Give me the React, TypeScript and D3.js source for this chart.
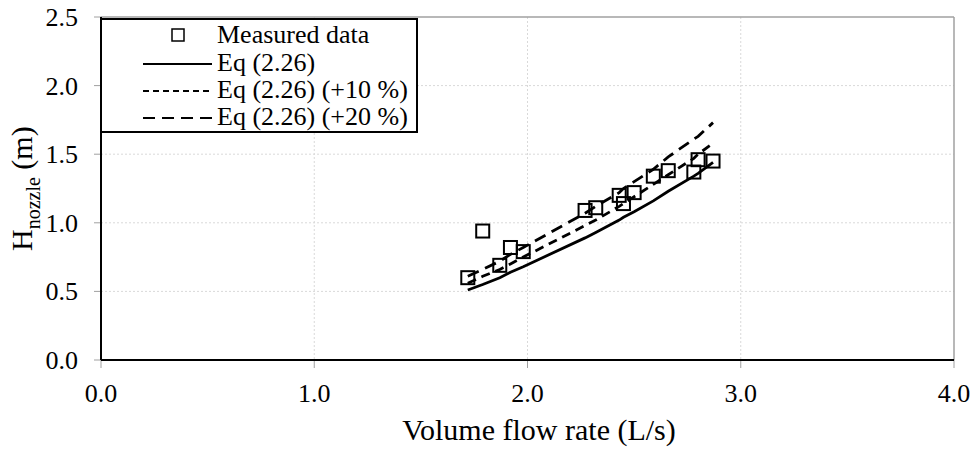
import React from 'react';
import * as d3 from 'd3';

// measured flow rate (L/s) and nozzle head (m)
const flowRates = [1.72, 1.79, 1.87, 1.92, 1.98, 2.27, 2.32, 2.43, 2.45, 2.50, 2.59, 2.66, 2.78, 2.80, 2.87];
const measuredHead = [0.60, 0.94, 0.69, 0.82, 0.79, 1.09, 1.11, 1.20, 1.14, 1.22, 1.34, 1.38, 1.37, 1.46, 1.45];

// Eq (2.26) curves read at the same flow rates
const eqHead = [0.51, 0.55, 0.60, 0.64, 0.68, 0.89, 0.93, 1.02, 1.04, 1.08, 1.16, 1.23, 1.34, 1.36, 1.44];
const eqHead10 = [0.56, 0.61, 0.66, 0.70, 0.75, 0.98, 1.02, 1.12, 1.14, 1.19, 1.28, 1.35, 1.47, 1.50, 1.58];
const eqHead20 = [0.61, 0.66, 0.72, 0.77, 0.82, 1.07, 1.12, 1.22, 1.25, 1.30, 1.39, 1.48, 1.61, 1.63, 1.73];

const xTicks = [0, 1, 2, 3, 4];
const yTicks = [0, 0.5, 1, 1.5, 2, 2.5];

const legendLabels = ['Measured data', 'Eq (2.26)', 'Eq (2.26) (+10 %)', 'Eq (2.26) (+20 %)'];

const W = 977;
const H = 453;
const FONT = "'Liberation Serif', 'DejaVu Serif', serif";

export default function App() {
  const x = d3.scaleLinear().domain([0, 4]).range([101, 954]);
  const y = d3.scaleLinear().domain([0, 2.5]).range([360, 17]);

  const line = d3.line<number>()
    .x((d, i) => x(flowRates[i]))
    .y(d => y(d));

  const curves = [
    {vals: eqHead, dash: null},
    {vals: eqHead10, dash: '9,6'},
    {vals: eqHead20, dash: '12,7'},
  ];
  const legendDash = [null, '6,4', '12,7'];

  const left = x.range()[0];
  const right = x.range()[1];
  const top = y.range()[1];
  const bottom = y.range()[0];

  // legend rows (baselines)
  const rowBase = [43, 71, 98, 125];
  const txt = {fontFamily: FONT, fill: '#000'};

  return (
    <div style={{position: 'absolute', top: 0, left: 0}}>
      <svg width={W} height={H} style={{display: 'block', background: '#fff', fontFamily: FONT}}>
        {/* grid */}
        {xTicks.filter(t => t > 0 && t < 4).map(t => (
          <line key={'gx' + t} x1={x(t)} x2={x(t)} y1={top} y2={bottom}
                stroke="#d9d9d9" strokeWidth={1} strokeDasharray="2,2" />
        ))}
        {yTicks.filter(t => t > 0 && t < 2.5).map(t => (
          <line key={'gy' + t} x1={left} x2={right} y1={y(t)} y2={y(t)}
                stroke="#d9d9d9" strokeWidth={1} strokeDasharray="2,2" />
        ))}
        {/* top / right border */}
        <line x1={left} x2={right} y1={top} y2={top} stroke="#a0a0a0" strokeWidth={1.5} />
        <line x1={right} x2={right} y1={top} y2={bottom} stroke="#a0a0a0" strokeWidth={1.5} />

        {/* ticks */}
        {xTicks.map(t => (
          <line key={'tx' + t} x1={x(t)} x2={x(t)} y1={bottom} y2={bottom + 8} stroke="#a0a0a0" strokeWidth={1} />
        ))}
        {yTicks.map(t => (
          <line key={'ty' + t} x1={left - 7} x2={left} y1={y(t)} y2={y(t)} stroke="#a0a0a0" strokeWidth={1} />
        ))}

        {/* axes */}
        <line x1={left} x2={left} y1={top} y2={bottom} stroke="#000" strokeWidth={2} />
        <line x1={left} x2={right} y1={bottom} y2={bottom} stroke="#000" strokeWidth={2} />

        {/* tick labels */}
        {xTicks.map(t => (
          <text key={'lx' + t} x={x(t)} y={402} textAnchor="middle" fontSize={26} style={txt}>{t.toFixed(1)}</text>
        ))}
        {yTicks.map(t => (
          <text key={'ly' + t} x={78} y={y(t) + 9} textAnchor="end" fontSize={26} style={txt}>{t.toFixed(1)}</text>
        ))}

        {/* axis titles */}
        <text x={539} y={440} textAnchor="middle" fontSize={30} style={txt}>Volume flow rate (L/s)</text>
        <text transform={`translate(32,251) rotate(-90)`} textAnchor="start" fontSize={30} style={txt}>
          H<tspan fontSize={20} dy={8}>nozzle</tspan><tspan dy={-8}> (m)</tspan>
        </text>

        {/* curves */}
        {curves.map((c, i) => (
          <path key={'c' + i} d={line(c.vals) || ''} fill="none" stroke="#000" strokeWidth={2.8}
                strokeDasharray={c.dash || undefined} />
        ))}

        {/* measured points */}
        {flowRates.map((q, i) => (
          <rect key={'p' + i} x={x(q) - 6.5} y={y(measuredHead[i]) - 6.5} width={13} height={13}
                fill="none" stroke="#000" strokeWidth={2} />
        ))}

        {/* legend */}
        <rect x={left} y={19} width={316} height={113} fill="#fff" stroke="#000" strokeWidth={2} />
        <rect x={172} y={rowBase[0] - 14} width={12} height={12} fill="none" stroke="#000" strokeWidth={1.5} />
        {legendDash.map((dash, i) => (
          <line key={'ll' + i} x1={143} x2={212} y1={rowBase[i + 1] - 7} y2={rowBase[i + 1] - 7}
                stroke="#000" strokeWidth={2} strokeDasharray={dash || undefined} />
        ))}
        {legendLabels.map((lab, i) => (
          <text key={'lt' + i} x={217} y={rowBase[i]} fontSize={26} style={txt}>{lab}</text>
        ))}
      </svg>
    </div>
  );
}
